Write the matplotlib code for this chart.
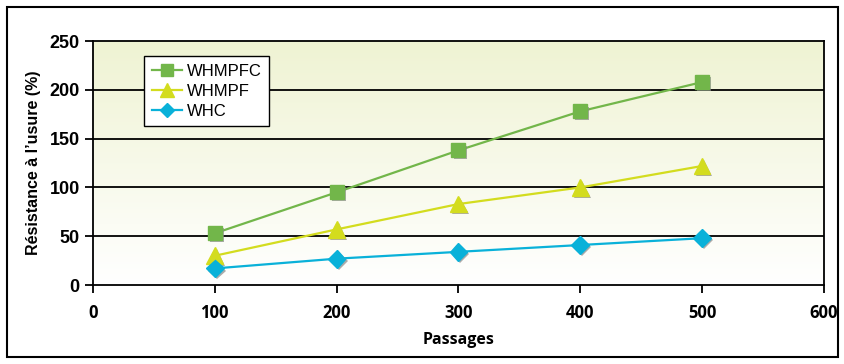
import numpy as np
import matplotlib
matplotlib.use('Agg')
from matplotlib import pyplot as plt
import matplotlib.patheffects as pe
from matplotlib.patches import Rectangle

passages = [100, 200, 300, 400, 500]
whmpfc = [53, 95, 138, 178, 208]
whmpf = [30, 57, 83, 100, 122]
whc = [17, 27, 34, 41, 48]

fig = plt.figure(figsize=(8.45, 3.64), dpi=100)
ax = fig.add_axes([0.110, 0.217, 0.865, 0.670])

# gradient background (light green at top to white at bottom)
grad = np.linspace(0, 1, 256).reshape(-1, 1)
top = np.array([0.937, 0.953, 0.827])
bot = np.array([1.0, 1.0, 1.0])
img = bot + (top - bot) * grad[:, :, None] * np.ones((1, 2, 1))
ax.imshow(img, extent=[0, 600, 0, 250], origin='lower', aspect='auto', zorder=0)

shadow = [pe.SimplePatchShadow(offset=(1.5, -1.5), shadow_rgbFace='#888888', alpha=0.7), pe.Normal()]

series = [
    ('WHMPFC', whmpfc, '#72b64a', 's', 10),
    ('WHMPF', whmpf, '#d3dc1e', '^', 12),
    ('WHC', whc, '#09b1d9', 'D', 9),
]
handles = []
for name, vals, col, mk, ms in series:
    ax.plot(passages, vals, color=col, lw=1.6, zorder=3)
    ax.plot(passages, vals, linestyle='none', marker=mk, ms=ms, color=col,
            path_effects=shadow, zorder=4)
    h, = ax.plot([], [], color=col, lw=1.6, marker=mk, ms=ms * 0.8, label=name)
    handles.append(h)

ax.set_xlim(0, 600)
ax.set_ylim(0, 250)
ax.set_xticks([0, 100, 200, 300, 400, 500, 600])
ax.set_yticks([0, 50, 100, 150, 200, 250])
for y in [50, 100, 150, 200]:
    ax.axhline(y, color='black', lw=1.3, zorder=1)
for s in ax.spines.values():
    s.set_linewidth(1.3)
ax.tick_params(axis='both', length=6, width=1.3, direction='out')
ax.tick_params(axis='x', pad=8)
for lab in ax.get_yticklabels():
    lab.set_fontfamily('Liberation Sans')
    lab.set_fontweight('bold')
    lab.set_fontsize(13)
for lab in ax.get_xticklabels():
    lab.set_fontfamily('Open Sans')
    lab.set_fontweight('bold')
    lab.set_fontsize(12)

ax.set_xlabel('Passages', fontfamily='Open Sans', fontweight='bold', fontsize=11.5, labelpad=7)
ax.set_ylabel("Résistance à l’usure (%)", fontfamily='Liberation Sans', fontweight='bold',
              fontsize=11.5, labelpad=6)

leg = ax.legend(handles=handles, loc='upper left', bbox_to_anchor=(0.070, 0.939),
                borderaxespad=0,
                prop={'family': 'Liberation Sans', 'size': 12}, frameon=True,
                fancybox=False, edgecolor='black', framealpha=1,
                handlelength=1.8, handletextpad=0.3, labelspacing=0.3,
                borderpad=0.45)
leg.get_frame().set_linewidth(1.0)

fig.patches.append(Rectangle((7 / 845, 7 / 364), 831 / 845, 350 / 364, transform=fig.transFigure,
                             fill=False, edgecolor='black', lw=1.5))

fig.savefig('out.png', dpi=100)
